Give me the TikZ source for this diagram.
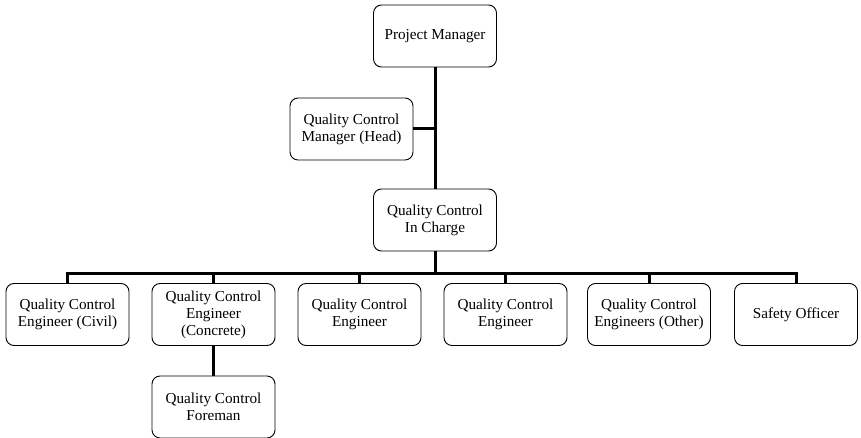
\documentclass[tikz,border=0pt]{standalone}
\usepackage{fontspec}
\setmainfont{Liberation Serif}
\tikzset{
  postbox/.style={draw,line width=0.9pt,rounded corners=8pt,minimum width=123pt,minimum height=62pt,inner sep=2pt,align=center,font=\fontsize{15.2}{17}\selectfont},
  link/.style={line width=3pt}
}
\begin{document}
\begin{tikzpicture}[x=1pt,y=-1pt]
\useasboundingbox (0,0) rectangle (861,438);
\node[postbox](pm) at (435,36){Project Manager};
\node[postbox](qcm) at (351.5,129){Quality Control\\Manager (Head)};
\node[postbox](qci) at (435,220){Quality Control\\In Charge};
\node[postbox](e1) at (67.5,314.5){Quality Control\\Engineer (Civil)};
\node[postbox](e2) at (213.5,314.5){Quality Control\\Engineer\\(Concrete)};
\node[postbox](e3) at (359.5,314.5){Quality Control\\Engineer};
\node[postbox](e4) at (505.5,314.5){Quality Control\\Engineer};
\node[postbox](e5) at (649,314.5){Quality Control\\Engineers (Other)};
\node[postbox](e6) at (796,314.5){Safety Officer};
\node[postbox](fm) at (213.5,407){Quality Control\\Foreman};
\coordinate (bus) at (435,273);
\draw[link](pm.south)--(qci.north);
\draw[link](qcm.east)--(qcm.east-|pm.south);
\draw[link](qci.south)--(bus);
\draw[link](e1.north)|-(bus)-|(e6.north);
\foreach \e in {e2,e3,e4,e5}
  \draw[link](\e.north)--(\e.north|-bus);
\draw[link](e2.south)--(fm.north);
\end{tikzpicture}
\end{document}
